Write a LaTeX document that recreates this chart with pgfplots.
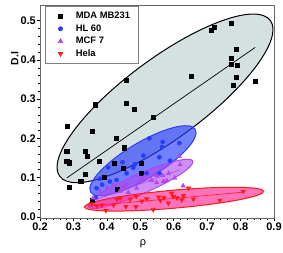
\documentclass[border=0pt]{standalone}
\usepackage{pgfplots}
\pgfplotsset{compat=1.18}
\usepackage{fontspec}
\setmainfont{Liberation Sans}[BoldFont={Liberation Sans Bold}]
\definecolor{mdafill}{RGB}{213,224,224}
\definecolor{hlblue}{RGB}{40,60,255}
\definecolor{mcfpur}{RGB}{175,70,240}
\definecolor{helared}{RGB}{255,25,25}
\begin{document}
\begin{tikzpicture}
\begin{axis}[
  scale only axis, width=234pt, height=213pt,
  xmin=0.2, xmax=0.9, ymin=-0.003, ymax=0.54,
  xtick={0.2,0.3,0.4,0.5,0.6,0.7,0.8,0.9},
  ytick={0,0.1,0.2,0.3,0.4,0.5},
  minor x tick num=4, minor y tick num=4,
  tick pos=left, tick align=outside,
  major tick length=3pt, minor tick length=1.8pt,
  tick style={black, line width=0.5pt},
  axis line style={gray!80!black, line width=0.6pt},
  /pgf/number format/assume math mode=true,
  /pgf/number format/.cd, fixed, fixed zerofill, precision=1, /pgfplots/.cd,
  xticklabel={\textbf{\pgfmathprintnumber{\tick}}},
  yticklabel={\textbf{\pgfmathprintnumber{\tick}}},
  ticklabel style={font=\fontsize{11}{12}\selectfont},
  yticklabel style={inner sep=1pt},
  xticklabel style={inner sep=1.5pt},
  xlabel={ρ}, ylabel={\textbf{D.I}},
  xlabel style={font=\fontsize{11}{12}\selectfont, at={(ticklabel cs:0.44)}, anchor=north, inner sep=1pt, yshift=-6pt},
  ylabel style={font=\fontsize{10.5}{12}\selectfont, at={(ticklabel cs:0.749)}, anchor=south, inner sep=1pt},
  legend style={at={(0.021,0.993)}, anchor=north west, draw=gray, line width=0.6pt,
    font=\fontsize{9.4}{11}\selectfont, row sep=2.5pt, inner xsep=8pt, inner ysep=4.5pt,
    nodes={inner sep=0pt, text height=7.5pt, text depth=2.5pt}},
  legend image code/.code={\path (0pt,0pt) (22pt,0pt); \draw[#1] plot coordinates {(7pt,0pt)};},
  legend cell align=left,
]
% ellipses
\draw[black, line width=1pt, fill=mdafill, rotate around={36.5:(axis cs:0.574,0.302)}]
  (axis cs:0.574,0.302) ellipse [x radius=131pt, y radius=40pt];
\draw[hlblue, line width=1pt, fill=hlblue, fill opacity=0.65, rotate around={31:(axis cs:0.508,0.143)}]
  (axis cs:0.508,0.143) ellipse [x radius=61pt, y radius=18pt];
\draw[mcfpur, line width=1pt, fill=mcfpur, fill opacity=0.6, rotate around={23.6:(axis cs:0.501,0.084)}]
  (axis cs:0.501,0.084) ellipse [x radius=57pt, y radius=10pt];
\draw[helared, line width=1pt, fill={rgb,255:red,255;green,40;blue,150}, fill opacity=0.65, rotate around={5:(axis cs:0.601,0.045)}]
  (axis cs:0.601,0.045) ellipse [x radius=90pt, y radius=9pt];
% regression lines
\addplot[black, line width=0.7pt, forget plot] coordinates {(0.280,0.099) (0.844,0.432)};
\addplot[mcfpur, line width=0.6pt, forget plot] coordinates {(0.36,0.042) (0.62,0.12)};
\addplot[helared, line width=0.6pt, forget plot] coordinates {(0.34,0.027) (0.81,0.063)};
% data
\addplot[only marks, mark=square*, mark size=2.1pt, black] coordinates {
(0.281,0.230) (0.280,0.167) (0.280,0.142) (0.288,0.138) (0.288,0.075)
(0.322,0.090) (0.336,0.109) (0.336,0.167) (0.341,0.155) (0.356,0.218)
(0.364,0.286) (0.378,0.142) (0.392,0.101) (0.422,0.137) (0.427,0.200)
(0.432,0.071) (0.448,0.124) (0.451,0.176) (0.458,0.348) (0.458,0.289)
(0.482,0.274) (0.503,0.137) (0.503,0.111) (0.539,0.254) (0.652,0.358)
(0.713,0.476) (0.722,0.483) (0.771,0.493) (0.772,0.405) (0.772,0.389)
(0.788,0.427) (0.790,0.387) (0.787,0.356) (0.777,0.335) (0.843,0.345)
(0.355,0.042)
};
\addlegendentry{\textbf{MDA MB231}}
\addplot[only marks, mark=*, mark size=2.1pt, hlblue] coordinates {
(0.527,0.200) (0.567,0.191) (0.565,0.178) (0.617,0.188) (0.509,0.156)
(0.557,0.152) (0.447,0.139) (0.484,0.134) (0.404,0.126) (0.519,0.111)
(0.557,0.111) (0.379,0.097) (0.386,0.082) (0.369,0.073) (0.367,0.050)
(0.429,0.094) (0.589,0.143) (0.459,0.111) (0.409,0.090) (0.479,0.125)
};
\addlegendentry{\textbf{HL 60}}
\addplot[only marks, mark=triangle*, mark size=2.6pt, mcfpur] coordinates {
(0.617,0.154) (0.619,0.133) (0.585,0.111) (0.567,0.105) (0.569,0.090)
(0.549,0.087) (0.534,0.093) (0.519,0.099) (0.603,0.099) (0.628,0.079)
(0.579,0.092) (0.457,0.082) (0.449,0.077) (0.464,0.062) (0.489,0.073)
(0.499,0.090) (0.419,0.082) (0.401,0.073) (0.379,0.065) (0.359,0.048)
(0.439,0.065) (0.509,0.099) (0.549,0.105)
};
\addlegendentry{\textbf{MCF 7}}
\addplot[only marks, mark=triangle*, mark options={rotate=180}, mark size=2.6pt, helared] coordinates {
(0.808,0.065) (0.738,0.042) (0.659,0.045) (0.644,0.073) (0.629,0.054)
(0.624,0.043) (0.599,0.052) (0.594,0.060) (0.571,0.048) (0.584,0.035)
(0.539,0.018) (0.519,0.046) (0.505,0.040) (0.488,0.052) (0.470,0.045)
(0.457,0.026) (0.440,0.048) (0.420,0.030) (0.397,0.016) (0.385,0.030)
(0.370,0.028) (0.355,0.033) (0.430,0.045) (0.555,0.050) (0.487,0.026)
(0.560,0.042) (0.610,0.048)
};
\addlegendentry{\textbf{Hela}}
\end{axis}
\pgfresetboundingbox
\useasboundingbox (current axis.south west) ++(-40pt,-35pt) rectangle ++(283pt,253pt);
\end{tikzpicture}
\end{document}
